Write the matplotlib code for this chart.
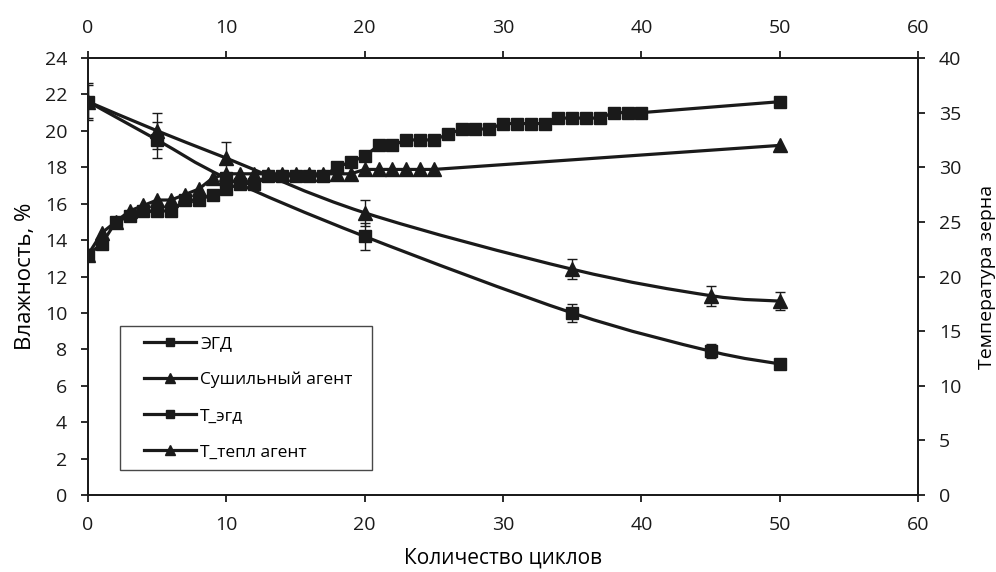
import matplotlib
matplotlib.use("Agg")
import matplotlib.pyplot as plt
from matplotlib.lines import Line2D
from matplotlib.path import Path
from matplotlib.patches import PathPatch
from matplotlib.legend_handler import HandlerLine2D

plt.rcParams["font.family"] = ["Open Sans", "DejaVu Sans"]
plt.rcParams["font.size"] = 14

# moisture series (left axis, %)
cycles = [0, 5, 10, 20, 35, 45, 50]
egd = [21.6, 19.5, 17.4, 14.2, 10.0, 7.9, 7.2]
egd_err = [0.9, 1.0, 0.3, 0.75, 0.5, 0.4, 0.2]
agent = [21.6, 20.0, 18.5, 15.5, 12.4, 10.95, 10.65]
agent_err = [1.0, 1.0, 0.9, 0.7, 0.55, 0.55, 0.5]

# temperature series (right axis, degrees)
t_egd_cycles = list(range(0, 41)) + [50]
t_egd = [22, 23, 25, 25.5, 26, 26, 26, 27, 27, 27.5,
         28, 28.5, 28.5, 29.2, 29.2, 29.2, 29.2, 29.2, 30, 30.5,
         31, 32, 32, 32.5, 32.5, 32.5, 33, 33.5, 33.5, 33.5,
         34, 34, 34, 34, 34.5, 34.5, 34.5, 34.5, 35, 35,
         35, 36]
t_agent_cycles = list(range(0, 26)) + [50]
t_agent = [22, 24, 25, 26, 26.5, 27, 27, 27.5, 28, 29,
           29.4, 29.4, 29.4, 29.4, 29.4, 29.4, 29.4, 29.4, 29.4, 29.4,
           29.8, 29.8, 29.8, 29.8, 29.8, 29.8, 32]

labels = ["ЭГД", "Сушильный агент", "Т_эгд", "Т_тепл агент"]


def smooth_path(xs, ys):
    # excel-like smoothed line: cubic bezier through the points
    pts = list(zip(xs, ys))
    verts = [pts[0]]
    codes = [Path.MOVETO]
    n = len(pts)
    for i in range(n - 1):
        p0 = pts[i - 1] if i > 0 else pts[i]
        p1 = pts[i]
        p2 = pts[i + 1]
        p3 = pts[i + 2] if i + 2 < n else pts[i + 1]
        c1 = (p1[0] + (p2[0] - p0[0]) / 6, p1[1] + (p2[1] - p0[1]) / 6)
        c2 = (p2[0] - (p3[0] - p1[0]) / 6, p2[1] - (p3[1] - p1[1]) / 6)
        verts += [c1, c2, p2]
        codes += [Path.CURVE4] * 3
    return Path(verts, codes)


ink = "#1a1a1a"
fig = plt.figure(figsize=(9.96, 5.72), dpi=100)
ax = fig.add_axes([0.0884, 0.1346, 0.8333, 0.764])
ax2 = ax.twinx()

lw = 2.3
for ys, err, mk, ms in [(egd, egd_err, "s", 8.5), (agent, agent_err, "^", 10)]:
    ax.add_patch(PathPatch(smooth_path(cycles, ys), fill=False, edgecolor=ink, lw=lw, zorder=2))
    ax.errorbar(cycles, ys, yerr=err, fmt=mk, color=ink, ms=ms, ecolor=ink,
                elinewidth=1.0, capsize=3.5, capthick=1.0, zorder=3)

ax2.plot(t_egd_cycles, t_egd, color=ink, lw=lw, marker="s", ms=8.5)
ax2.plot(t_agent_cycles, t_agent, color=ink, lw=lw, marker="^", ms=10)

ax.set_xlim(0, 60)
ax.set_ylim(0, 24)
ax.set_yticks(range(0, 25, 2))
ax.set_xticks(range(0, 61, 10))
ax2.set_ylim(0, 40)
ax2.set_yticks(range(0, 41, 5))

for a in (ax, ax2):
    for s in a.spines.values():
        s.set_linewidth(1.3)
        s.set_color(ink)
ax.tick_params(axis="both", direction="out", length=5, width=1.3, pad=10, colors=ink,
               labelsize=14, top=True, labeltop=True)
ax2.tick_params(axis="y", direction="out", length=5, width=1.3, pad=10, colors=ink, labelsize=14)

ax.set_xlabel("Количество циклов", fontsize=15, labelpad=10)
ax.set_ylabel("Влажность, %", fontsize=16, labelpad=6)
ax2.set_ylabel("Температура зерна", fontsize=14, labelpad=12)

handles = [
    Line2D([], [], color=ink, lw=lw, marker="s", ms=6),
    Line2D([], [], color=ink, lw=lw, marker="^", ms=7),
    Line2D([], [], color=ink, lw=lw, marker="s", ms=6),
    Line2D([], [], color=ink, lw=lw, marker="^", ms=7),
]
leg = ax2.legend(handles, labels, loc="lower left", bbox_to_anchor=(0.038, 0.057, 0.304, 0.343),
                 mode="expand", frameon=True, fancybox=False, edgecolor=ink,
                 handler_map={Line2D: HandlerLine2D(xpad=0.85)},
                 handlelength=3.85, handletextpad=0.25, labelspacing=1.15, borderpad=0.55,
                 borderaxespad=0, fontsize=12.5)
leg.get_frame().set_linewidth(1.0)

fig.savefig("out.png", dpi=100)
